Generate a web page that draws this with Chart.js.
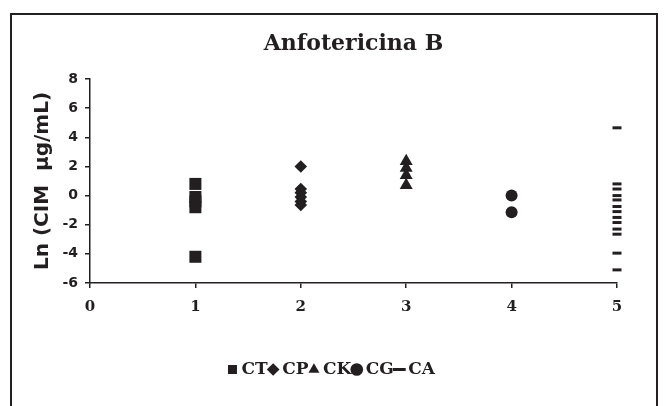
<!DOCTYPE html>
<html><head><meta charset="utf-8">
<script src="https://cdn.jsdelivr.net/npm/chart.js@4.4.1/dist/chart.umd.min.js"></script>
<style>
html,body{margin:0;padding:0;background:#fff;}
#wrap{position:relative;width:668px;height:406px;overflow:hidden;background:#fff;}
#frame{position:absolute;left:10px;top:13px;width:648px;height:430px;border:2px solid #231f20;box-sizing:border-box;}
canvas{position:absolute;left:0;top:0;}
</style></head><body>
<div id="wrap"><div id="frame"></div><canvas id="c" width="668" height="406"></canvas></div>
<script>
const chartTitle = 'Anfotericina B';
const yAxisTitle = 'Ln (CIM  µg/mL)';
const seriesNames = ['CT', 'CP', 'CK', 'CG', 'CA'];
const seriesX = [1, 2, 3, 4, 5];
const ctValues = [0.8, -0.1, -0.4, -0.8, -4.2];
const cpValues = [2.0, 0.45, 0.2, -0.1, -0.4, -0.65];
const ckValues = [2.35, 1.9, 1.4, 0.7];
const cgValues = [0.0, -1.15];
const caValues = [4.65, 0.8, 0.45, 0.0, -0.3, -0.75, -1.1, -1.5, -1.85, -2.3, -2.65, -3.95, -5.1];
const yTicks = [-6, -4, -2, 0, 2, 4, 6, 8];
const xTicks = [0, 1, 2, 3, 4, 5];

const ink = '#231f20';
const allValues = [ctValues, cpValues, ckValues, cgValues, caValues];
const styles = [
  {pointStyle: 'rect', pointRadius: 8.5, borderWidth: 0},
  {pointStyle: 'rectRot', pointRadius: 6.3, borderWidth: 0},
  {pointStyle: 'triangle', pointRadius: 7.5, borderWidth: 0},
  {pointStyle: 'circle', pointRadius: 6, borderWidth: 0},
  {pointStyle: 'line', pointRadius: 4.5, borderWidth: 3}
];
const datasets = seriesNames.map((name, i) => ({
  label: name,
  data: allValues[i].map(v => ({x: seriesX[i], y: v})),
  backgroundColor: ink,
  borderColor: ink,
  pointBackgroundColor: ink,
  pointBorderColor: ink,
  pointStyle: styles[i].pointStyle,
  pointRadius: styles[i].pointRadius,
  pointHoverRadius: styles[i].pointRadius,
  pointBorderWidth: styles[i].borderWidth,
  borderWidth: styles[i].borderWidth,
  showLine: false,
  clip: false
}));

new Chart(document.getElementById('c'), {
  type: 'scatter',
  data: {datasets},
  options: {
    responsive: false,
    animation: false,
    events: [],
    layout: {padding: {left: 50, right: 51, top: 18, bottom: 18}},
    plugins: {
      tooltip: {enabled: false},
      title: {
        display: true,
        text: chartTitle,
        fullSize: false,
        color: ink,
        font: {family: 'DejaVu Serif', weight: 'bold', size: 22, lineHeight: 1.2},
        padding: {top: 13, bottom: 21.6}
      },
      legend: {
        display: true,
        position: 'bottom',
        fullSize: true,
        labels: {
          usePointStyle: true,
          boxWidth: 1,
          boxHeight: 9,
          padding: 5,
          color: ink,
          font: {family: 'DejaVu Serif', weight: 'bold', size: 17}
        }
      }
    },
    scales: {
      x: {
        type: 'linear',
        min: 0, max: 5,
        afterBuildTicks: s => { s.ticks = xTicks.map(v => ({value: v})); },
        afterFit: s => { s.height = 73; },
        grid: {display: true, drawOnChartArea: false, drawTicks: true, tickLength: 5, color: ink, lineWidth: 1.5},
        border: {display: true, color: ink, width: 1.5},
        ticks: {color: ink, padding: 10, font: {family: 'DejaVu Serif', weight: 'bold', size: 15}}
      },
      y: {
        type: 'linear',
        min: -6, max: 8,
        afterBuildTicks: s => { s.ticks = yTicks.map(v => ({value: v})); },
        afterFit: s => { s.width = 40; },
        grid: {display: true, drawOnChartArea: false, drawTicks: true, tickLength: 5, color: ink, lineWidth: 1.5},
        border: {display: true, color: ink, width: 1.5},
        ticks: {color: ink, padding: 7, font: {family: 'DejaVu Sans', weight: 'bold', size: 14}},
        title: {
          display: true,
          text: yAxisTitle,
          color: ink,
          font: {family: 'DejaVu Sans', weight: 'bold', size: 20, lineHeight: 1.2},
          padding: {top: -19, bottom: 0}
        }
      }
    }
  }
});
</script>
</body></html>
